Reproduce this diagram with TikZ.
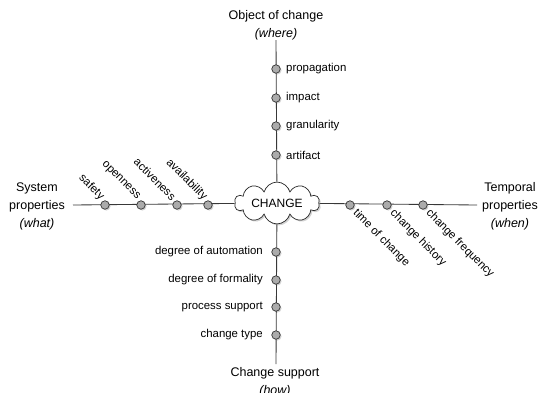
\documentclass[tikz,border=0pt]{standalone}
\usepackage{fontspec}
\setmainfont{Liberation Sans}
\usetikzlibrary{shapes.symbols,shadows,backgrounds}
\begin{document}
\begin{tikzpicture}[x=1pt,y=-1pt,
  axis/.style={draw=black!78, line width=0.85pt},
  dot/.style={circle, draw=black!80, fill=black!33, line width=0.7pt, minimum size=8.5pt, inner sep=0pt,
    drop shadow={shadow xshift=1.3pt, shadow yshift=-1.3pt, opacity=0.35}},
  lbl/.style={font=\fontsize{11.4}{13}\selectfont, inner sep=1pt},
  ttl/.style={font=\fontsize{12.5}{18}\selectfont, align=center, inner sep=0pt},
  ]
\useasboundingbox (0,0) rectangle (538,392);

% central cloud
\node[cloud, draw=black!85, fill=white, line width=0.7pt, cloud puffs=10, aspect=2.8,
      minimum width=85pt, minimum height=31pt, inner sep=0pt,
      font=\fontsize{12}{14}\selectfont,
      drop shadow={shadow xshift=1.5pt, shadow yshift=-1.5pt, opacity=0.35}] (change) at (277,203) {CHANGE};

% axis ends
\coordinate (top) at (276,40);
\coordinate (bot) at (276,364);
\coordinate (lft) at (73,205);
\coordinate (rgt) at (477,205);

% titles
\node[ttl] (objt) at (276,25) {Object of change\\\textit{(where)}};
\node[ttl] (supt) at (275,382) {Change support\\\textit{(how)}};
\node[ttl] (syst) at (37,206) {System\\properties\\\textit{(what)}};
\node[ttl] (tmpt) at (510,206) {Temporal\\properties\\\textit{(when)}};

% top dots
\node[dot] (t1) at (276,69) {};
\node[dot] (t2) at (276,98) {};
\node[dot] (t3) at (276,126) {};
\node[dot] (t4) at (276,155) {};
\node[lbl, anchor=west] (lt1) at ([xshift=9pt]t1.center) {propagation};
\node[lbl, anchor=west] (lt2) at ([xshift=9pt]t2.center) {impact};
\node[lbl, anchor=west] (lt3) at ([xshift=9pt]t3.center) {granularity};
\node[lbl, anchor=west] (lt4) at ([xshift=9pt]t4.center) {artifact};

% bottom dots
\node[dot] (b1) at (276,252) {};
\node[dot] (b2) at (276,280) {};
\node[dot] (b3) at (276,307) {};
\node[dot] (b4) at (276,335) {};
\node[lbl, anchor=east] (lb1) at ([xshift=-12pt]b1.center) {degree of automation};
\node[lbl, anchor=east] (lb2) at ([xshift=-12pt]b2.center) {degree of formality};
\node[lbl, anchor=east] (lb3) at ([xshift=-12pt]b3.center) {process support};
\node[lbl, anchor=east] (lb4) at ([xshift=-12pt]b4.center) {change type};

% left dots
\node[dot] (l1) at (105,205) {};
\node[dot] (l2) at (141,205) {};
\node[dot] (l3) at (177,205) {};
\node[dot] (l4) at (208,205) {};
\node[lbl, rotate=-45, anchor=east] (ll1) at ([shift={(-2,-6)}]l1.center) {safety};
\node[lbl, rotate=-45, anchor=east] (ll2) at ([shift={(-2,-6)}]l2.center) {openness};
\node[lbl, rotate=-45, anchor=east] (ll3) at ([shift={(-2,-6)}]l3.center) {activeness};
\node[lbl, rotate=-45, anchor=east] (ll4) at ([shift={(-2,-6)}]l4.center) {availability};

% right dots
\node[dot] (r1) at (350,205) {};
\node[dot] (r2) at (387,205) {};
\node[dot] (r3) at (423,205) {};
\node[lbl, rotate=-45, anchor=west] (lr1) at ([shift={(4,6)}]r1.center) {time of change};
\node[lbl, rotate=-45, anchor=west] (lr2) at ([shift={(4,6)}]r2.center) {change history};
\node[lbl, rotate=-45, anchor=west] (lr3) at ([shift={(4,6)}]r3.center) {change frequency};

\begin{scope}[on background layer]
\draw[axis] (top) -- (change);
\draw[axis] (bot) -- (change);
\draw[axis] (lft) -- (change);
\draw[axis] (rgt) -- (change);
\end{scope}
\end{tikzpicture}
\end{document}
